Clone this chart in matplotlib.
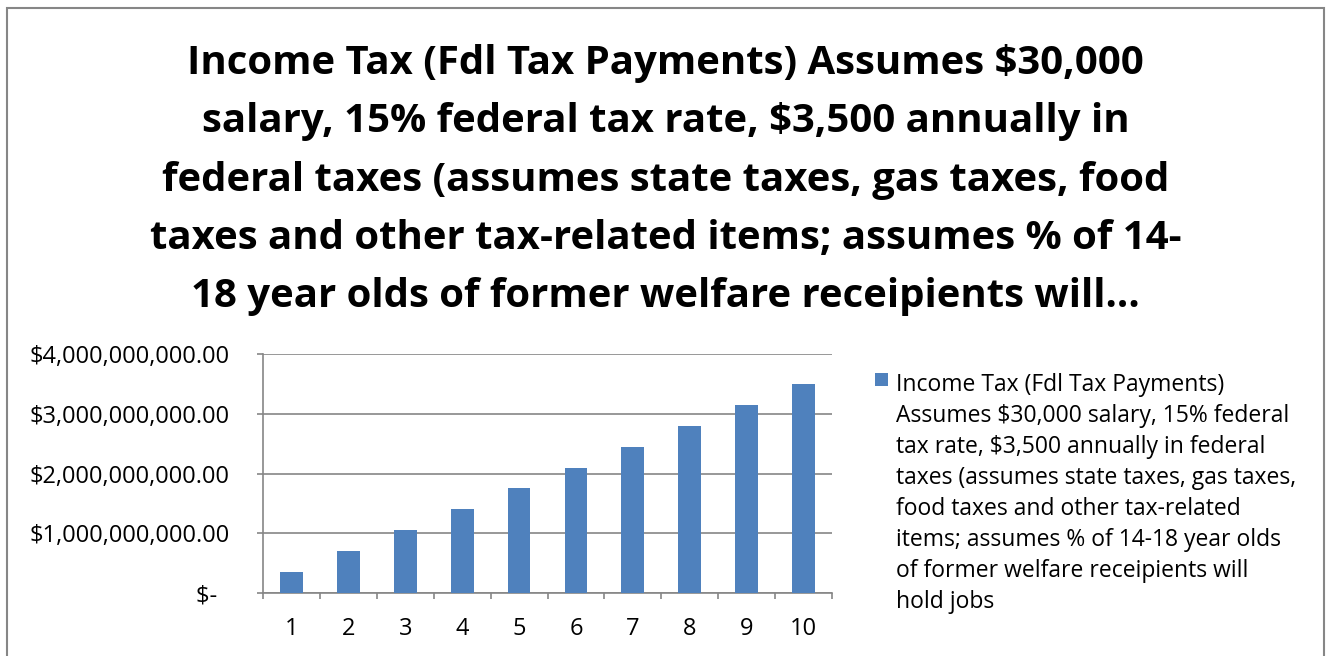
import matplotlib
matplotlib.use("Agg")
import matplotlib.pyplot as plt
from matplotlib.patches import Rectangle

categories = ["1", "2", "3", "4", "5", "6", "7", "8", "9", "10"]
values = [350e6, 700e6, 1050e6, 1400e6, 1750e6, 2100e6, 2450e6, 2800e6, 3150e6, 3500e6]
yticks = [0, 1e9, 2e9, 3e9, 4e9]
ytick_labels = ["$-  ", "$1,000,000,000.00", "$2,000,000,000.00", "$3,000,000,000.00", "$4,000,000,000.00"]
title = ("Income Tax (Fdl Tax Payments) Assumes $30,000\n"
         "salary, 15% federal tax rate, $3,500 annually in\n"
         "federal taxes (assumes state taxes, gas taxes, food\n"
         "taxes and other tax-related items; assumes % of 14-\n"
         "18 year olds of former welfare receipients will\u2026")
legend_text = ("Income Tax (Fdl Tax Payments)\n"
               "Assumes $30,000 salary, 15% federal\n"
               "tax rate, $3,500 annually in federal\n"
               "taxes (assumes state taxes, gas taxes,\n"
               "food taxes and other tax-related\n"
               "items; assumes % of 14-18 year olds\n"
               "of former welfare receipients will\n"
               "hold jobs")

plt.rcParams['font.family'] = ['Open Sans', 'DejaVu Sans']
W, H = 1328, 656
fig = plt.figure(figsize=(W / 100, H / 100), dpi=100)
fig.patch.set_facecolor("white")

# outer border
fig.patches.append(Rectangle((7 / W, -0.05), (1324 - 7) / W, (H - 8) / H + 0.05,
                             transform=fig.transFigure, fill=False,
                             edgecolor="#868686", linewidth=1.5))

fig.text(665.5 / W, 1 - 44 / H, title, ha="center", va="top", fontsize=28.9,
         fontweight="bold", linespacing=1.645, color="black")

ax = fig.add_axes([263 / W, 1 - 593 / H, (832 - 263) / W, (593 - 354) / H])
grid_color = "#868686"
x = list(range(len(categories)))
ax.bar(x, values, width=0.4, color="#4F81BD", zorder=3)
ax.set_xlim(-0.5, len(categories) - 0.5)
ax.set_ylim(0, 4e9)
ax.set_yticks(yticks)
ax.set_yticklabels(ytick_labels, fontsize=17)
ax.yaxis.grid(True, color=grid_color, linewidth=1.2, zorder=0)
ax.set_xticks(x)
ax.set_xticklabels(categories, fontsize=17)
ax.tick_params(axis="x", length=0, pad=17)
ax.set_xticks([i - 0.5 for i in range(len(categories) + 1)], minor=True)
ax.tick_params(axis="x", which="minor", length=4.5, color=grid_color, width=1.2)
ax.tick_params(axis="y", length=4.5, color=grid_color, width=1.2, pad=19.4)
for s in ["top", "right"]:
    ax.spines[s].set_visible(False)
for s in ["left", "bottom"]:
    ax.spines[s].set_color(grid_color)
    ax.spines[s].set_linewidth(1.2)

# legend
fig.patches.append(Rectangle((875 / W, 1 - 386 / H), 13 / W, 13 / H,
                             transform=fig.transFigure, facecolor="#4F81BD",
                             edgecolor="none"))
fig.text(896 / W, 1 - 373 / H, legend_text, ha="left", va="top", fontsize=16.5,
         linespacing=1.39, color="black")

fig.savefig("out.png", dpi=100)
